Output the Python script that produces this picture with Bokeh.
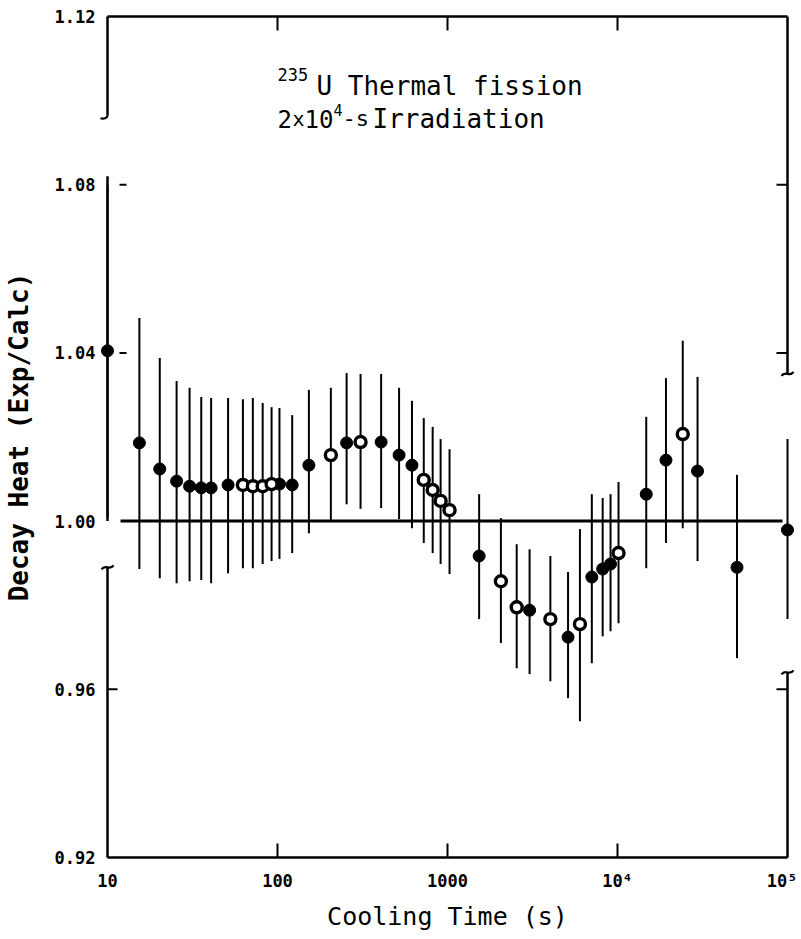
import math
from bokeh.plotting import figure
from bokeh.models import Range1d, FixedTicker, CustomJSTickFormatter, Label, ColumnDataSource
from bokeh.embed import file_html
from bokeh.resources import INLINE

# ---------------- data ----------------
cooling_time = [10, 15.4, 20.3, 25.5, 30.4, 35.6, 40.7, 51.2, 62.6, 71.6, 81.8, 92.3,
                102.7, 122, 153, 206, 255, 308, 407, 519, 618, 725, 818, 911, 1028,
                1535, 2061, 2553, 3040, 4028, 5118, 6012, 7063, 8180, 9100, 10140,
                14760, 19280, 24200, 29570, 50470, 100000]
ratio = [1.0405, 1.0186, 1.0124, 1.0095, 1.0083, 1.0079, 1.0079, 1.0086, 1.0086, 1.0083,
         1.0083, 1.0088, 1.0088, 1.0086, 1.0133, 1.0157, 1.0186, 1.0188, 1.0188, 1.0157,
         1.0133, 1.0098, 1.0074, 1.0048, 1.0026, 0.9917, 0.9857, 0.9795, 0.9788, 0.9767,
         0.9724, 0.9755, 0.9867, 0.9886, 0.9898, 0.9924, 1.0064, 1.0145, 1.0207, 1.0119,
         0.9890, 0.9979]
upper = [1.0800, 1.0483, 1.0388, 1.0333, 1.0317, 1.0295, 1.0293, 1.0293, 1.0290, 1.0293,
         1.0281, 1.0271, 1.0269, 1.0252, 1.0312, 1.0317, 1.0352, 1.0350, 1.0350, 1.0317,
         1.0286, 1.0245, 1.0224, 1.0195, 1.0171, 1.0064, 1.0007, 0.9945, 0.9933, 0.9917,
         0.9879, 0.9981, 1.0064, 1.0055, 1.0064, 1.0093, 1.0248, 1.0340, 1.0429, 1.0343,
         1.0110, 1.0195]
lower = [1.0010, 0.9886, 0.9864, 0.9852, 0.9857, 0.9860, 0.9852, 0.9876, 0.9888, 0.9888,
         0.9898, 0.9905, 0.9910, 0.9924, 0.9971, 1.0000, 1.0040, 1.0029, 1.0031, 1.0005,
         0.9983, 0.9948, 0.9924, 0.9898, 0.9874, 0.9767, 0.9710, 0.9650, 0.9636, 0.9619,
         0.9579, 0.9524, 0.9662, 0.9726, 0.9738, 0.9757, 0.9888, 0.9948, 0.9983, 0.9905,
         0.9674, 0.9767]
open_point = [False, False, False, False, False, False, False, False, True, True,
              True, True, False, False, False, True, False, True, False, False,
              False, True, True, True, True, False, True, True, False, True,
              False, True, False, False, False, True, False, False, True, False,
              False, False]

xtick_values = [10, 100, 1000, 10000, 100000]
xtick_labels = ["10", "100", "1000", "10\u2074", "10\u2075"]
ytick_values = [0.92, 0.96, 1.00, 1.04, 1.08, 1.12]
ytick_labels = ["0.92", "0.96", "1.00", "1.04", "1.08", "1.12"]

x_title = "Cooling Time (s)"
y_title = "Decay Heat (Exp/Calc)"

# ---------------- geometry helpers ----------------
XPX = 170.0   # pixels per decade
YPX = 4205.0  # pixels per unit of ratio
X0, X1 = xtick_values[0], xtick_values[-1]
Y0, Y1 = ytick_values[0], ytick_values[-1]

def xo(x, px):
    return x * 10 ** (px / XPX)

def yo(y, px):
    return y + px / YPX

FONT = "DejaVu Sans Mono"

p = figure(x_axis_type="log",
           x_range=Range1d(xo(X0, -8), xo(X1, 8)),
           y_range=Range1d(yo(Y0, -4), yo(Y1, 4)),
           frame_width=696, frame_height=849,
           min_border_left=95, min_border_right=2, min_border_top=12, min_border_bottom=70,
           output_backend="svg", toolbar_location=None)
p.outline_line_color = None
p.xgrid.grid_line_color = None
p.ygrid.grid_line_color = None
p.background_fill_color = "white"
p.border_fill_color = "white"

# axes: labels only
xfmt = CustomJSTickFormatter(args=dict(vals=xtick_values, labs=xtick_labels), code="""
const i = vals.findIndex(v => Math.abs(Math.log10(v) - Math.log10(tick)) < 1e-6);
return i >= 0 ? labs[i] : '';
""")
yfmt = CustomJSTickFormatter(args=dict(vals=ytick_values, labs=ytick_labels), code="""
const i = vals.findIndex(v => Math.abs(v - tick) < 1e-6);
return i >= 0 ? labs[i] : '';
""")
for ax, tk, fm in ((p.xaxis, xtick_values, xfmt), (p.yaxis, ytick_values, yfmt)):
    ax.ticker = FixedTicker(ticks=tk)
    ax.formatter = fm
    ax.axis_line_color = None
    ax.major_tick_line_color = None
    ax.minor_tick_line_color = None
    ax.major_tick_in = 0
    ax.major_tick_out = 0
    ax.major_label_text_font = FONT
    ax.major_label_text_font_size = "17px"
    ax.major_label_text_font_style = "bold"
    ax.major_label_text_color = "black"
    ax.axis_label_text_font = FONT
    ax.axis_label_text_color = "black"

p.xaxis.major_label_standoff = 9
p.xaxis.axis_label = x_title
p.xaxis.axis_label_text_font_size = "25px"
p.xaxis.axis_label_text_font_style = "normal"
p.xaxis.axis_label_standoff = 8

p.yaxis.major_label_standoff = 4
p.yaxis.axis_label = y_title
p.yaxis.axis_label_text_font_size = "26px"
p.yaxis.axis_label_text_font_style = "bold"
p.yaxis.axis_label_standoff = 18

# ---------------- frame with axis breaks ----------------
AW = 2.5
# top and bottom
p.segment(x0=[X0, X0], y0=[Y1, Y0], x1=[X1, X1], y1=[Y1, Y0], line_width=AW, color="black")
# left axis pieces
left_pieces = [(Y1, 1.0965), (1.082, 1.00), (0.989, Y0)]
p.segment(x0=[X0] * 3, y0=[a for a, b in left_pieces], x1=[X0] * 3, y1=[b for a, b in left_pieces],
          line_width=AW, color="black")
# right axis pieces
right_pieces = [(Y1, 1.035), (0.964, Y0)]
p.segment(x0=[X1] * 2, y0=[a for a, b in right_pieces], x1=[X1] * 2, y1=[b for a, b in right_pieces],
          line_width=AW, color="black")

# break marks
bx0, by0, bx1, by1, cx0, cy0, cx1, cy1 = [], [], [], [], [], [], [], []
def tilde(x, y):
    bx0.append(xo(x, -6)); by0.append(yo(y, -2))
    bx1.append(xo(x, 6)); by1.append(yo(y, 2))
    cx0.append(xo(x, -2)); cy0.append(yo(y, 4))
    cx1.append(xo(x, 2)); cy1.append(yo(y, -4))
tilde(X0, 0.989)
tilde(X1, 1.035)
tilde(X1, 0.964)
# left top hook
bx0.append(X0); by0.append(1.0965)
bx1.append(xo(X0, -7)); by1.append(yo(1.0965, -3))
cx0.append(X0); cy0.append(yo(1.0965, -3))
cx1.append(xo(X0, -4)); cy1.append(yo(1.0965, -4))
p.bezier(x0=bx0, y0=by0, x1=bx1, y1=by1, cx0=cx0, cy0=cy0, cx1=cx1, cy1=cy1,
         line_width=2.2, color="black")

# tick marks
inner_x = xtick_values[1:-1]
p.segment(x0=inner_x, y0=[Y1] * 3, x1=inner_x, y1=[yo(Y1, -14)] * 3, line_width=2, color="black")
p.segment(x0=inner_x, y0=[Y0] * 3, x1=inner_x, y1=[yo(Y0, 14)] * 3, line_width=2, color="black")
# left ticks: detached dashes at 1.08, 1.04; attached at 0.96
ldash = [ytick_values[4], ytick_values[3]]
p.segment(x0=[xo(X0, 12)] * 2, y0=ldash, x1=[xo(X0, 19)] * 2, y1=ldash, line_width=2, color="black")
p.segment(x0=[X0], y0=[ytick_values[1]], x1=[xo(X0, 10)], y1=[ytick_values[1]], line_width=2, color="black")
# right ticks
rt = [ytick_values[4], ytick_values[3], ytick_values[1]]
p.segment(x0=[X1] * 3, y0=rt, x1=[xo(X1, -11)] * 3, y1=rt, line_width=2, color="black")

# reference line at 1.00
p.segment(x0=[xo(X0, 13)], y0=[ytick_values[2]], x1=[xo(X1, -5)], y1=[ytick_values[2]],
          line_width=3, color="black")

# ---------------- data marks ----------------
src = ColumnDataSource(dict(t=cooling_time, r=ratio, hi=upper, lo=lower))
p.segment(x0="t", y0="lo", x1="t", y1="hi", source=src, line_width=2, color="black")

filled_src = ColumnDataSource(dict(
    t=[t for t, o in zip(cooling_time, open_point) if not o],
    r=[r for r, o in zip(ratio, open_point) if not o]))
open_src = ColumnDataSource(dict(
    t=[t for t, o in zip(cooling_time, open_point) if o],
    r=[r for r, o in zip(ratio, open_point) if o]))
p.scatter(x="t", y="r", source=filled_src, size=12, marker="circle",
          fill_color="black", line_color="black")
p.scatter(x="t", y="r", source=open_src, size=11, marker="circle",
          fill_color="white", line_color="black", line_width=3.4)

# ---------------- title text ----------------
base1 = yo(Y1, -69)
base2 = yo(Y1, -102)
pieces = [
    ("235", 0, yo(Y1, -58), "17px"),
    ("U Thermal fission", 39, base1, "26px"),
    ("2", 0, base2, "24px"),
    ("x", 15, base2, "20px"),
    ("10", 27, base2, "24px"),
    ("4", 56, yo(Y1, -93), "15px"),
    ("-s", 65, base2, "22px"),
    ("Irradiation", 95, base2, "26px"),
]
for txt, dx, yy, fs in pieces:
    p.add_layout(Label(x=xo(xtick_values[1], dx), y=yy, text=txt, text_font=FONT,
                       text_font_size=fs, text_color="black", text_baseline="alphabetic",
                       text_align="left"))

open("out.html", "w").write(file_html(p, INLINE))
